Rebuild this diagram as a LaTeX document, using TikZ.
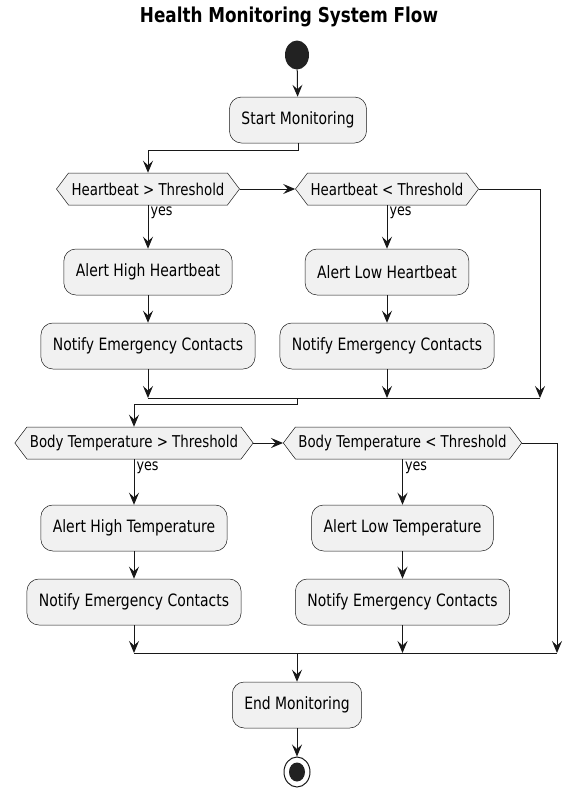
\documentclass[tikz,border=0pt]{standalone}
\usepackage{fontspec}
\setmainfont[FakeStretch=0.82]{DejaVu Sans}
\usetikzlibrary{shapes.symbols,shapes.geometric,arrows.meta}
\definecolor{boxfill}{HTML}{F1F1F1}
\definecolor{ink}{HTML}{181818}
\definecolor{dotfill}{HTML}{222222}

\begin{document}
\begin{tikzpicture}[x=1pt, y=-1pt,
    action/.style={draw=ink, line width=0.5pt, fill=boxfill, rounded corners=12pt,
      minimum height=46pt, inner xsep=12pt, font=\fontsize{17}{19}\selectfont},
    check/.style={signal, signal to=east and west, signal pointer angle=106,
      draw=ink, line width=0.5pt, fill=boxfill, minimum height=32pt,
      inner xsep=3pt, font=\fontsize{16.3}{18}\selectfont},
    flow/.style={draw=ink, line width=1pt, -{Stealth[length=12pt,width=10pt,inset=4.5pt]}},
    mergeline/.style={draw=ink, line width=1pt},
    yes/.style={right, inner sep=2pt, font=\fontsize{15.5}{18}\selectfont}]
    \useasboundingbox (0,0) rectangle (563,788);

    % Title
    \node[font=\fontsize{20.5}{22}\selectfont\bfseries] (title) at (289,17) {Health Monitoring System Flow};

    % Start and first action
    \node[ellipse, fill=dotfill, minimum width=24pt, minimum height=29pt, inner sep=0pt] (start) at (297,55) {};
    \node[action] (sm) at (298,120) {Start Monitoring};

    % Heartbeat checks
    \node[check] (d1) at (148,189) {Heartbeat > Threshold};
    \node[check] (d2) at (387,189) {Heartbeat < Threshold};
    \node[action] (a1) at (148,272) {Alert High Heartbeat};
    \node[action] (n1) at (148,346) {Notify Emergency Contacts};
    \node[action] (a2) at (387,272) {Alert Low Heartbeat};
    \node[action] (n2) at (387,346) {Notify Emergency Contacts};
    \coordinate (m1) at (297,398);
    \coordinate (m1r) at (540,398);

    % Temperature checks
    \node[check] (d3) at (134,443) {Body Temperature > Threshold};
    \node[check] (d4) at (402.5,443) {Body Temperature < Threshold};
    \node[action] (a3) at (134,528) {Alert High Temperature};
    \node[action] (n3) at (134,602) {Notify Emergency Contacts};
    \node[action] (a4) at (402.5,528) {Alert Low Temperature};
    \node[action] (n4) at (402.5,602) {Notify Emergency Contacts};
    \coordinate (m2) at (297,653);
    \coordinate (m2r) at (557,653);

    % End
    \node[action] (em) at (297,705) {End Monitoring};
    \node[ellipse, draw=ink, line width=1pt, fill=white, minimum width=26pt, minimum height=30pt, inner sep=0pt,
      path picture={\fill[dotfill] (path picture bounding box.center) ellipse (8pt and 9.5pt);}] (end) at (297,772) {};

    % Flow: heartbeat
    \draw[flow] (start) -- (sm);
    \draw[flow] (sm.south) -- ++(0,7) -| (d1.north);
    \draw[flow] (d1.east) -- (d2.west);
    \draw[flow] (d1.south) -- node[yes, pos=0.18] {yes} (a1.north);
    \draw[flow] (a1) -- (n1);
    \draw[flow] (d2.south) -- node[yes, pos=0.18] {yes} (a2.north);
    \draw[flow] (a2) -- (n2);
    \draw[flow] (n1.south) -- (n1.south |- m1);
    \draw[flow] (n2.south) -- (n2.south |- m1);
    \draw[flow] (d2.east) -| (m1r);
    \draw[mergeline] (n1.south |- m1) -- (m1r);

    % Flow: temperature
    \draw[flow] (m1) -- ++(0,6) -| (d3.north);
    \draw[flow] (d3.east) -- (d4.west);
    \draw[flow] (d3.south) -- node[yes, pos=0.18] {yes} (a3.north);
    \draw[flow] (a3) -- (n3);
    \draw[flow] (d4.south) -- node[yes, pos=0.18] {yes} (a4.north);
    \draw[flow] (a4) -- (n4);
    \draw[flow] (n3.south) -- (n3.south |- m2);
    \draw[flow] (n4.south) -- (n4.south |- m2);
    \draw[flow] (d4.east) -| (m2r);
    \draw[mergeline] (n3.south |- m2) -- (m2r);

    % Flow: end
    \draw[flow] (m2) -- (em);
    \draw[flow] (em) -- (end);
  \end{tikzpicture}
\end{document}
